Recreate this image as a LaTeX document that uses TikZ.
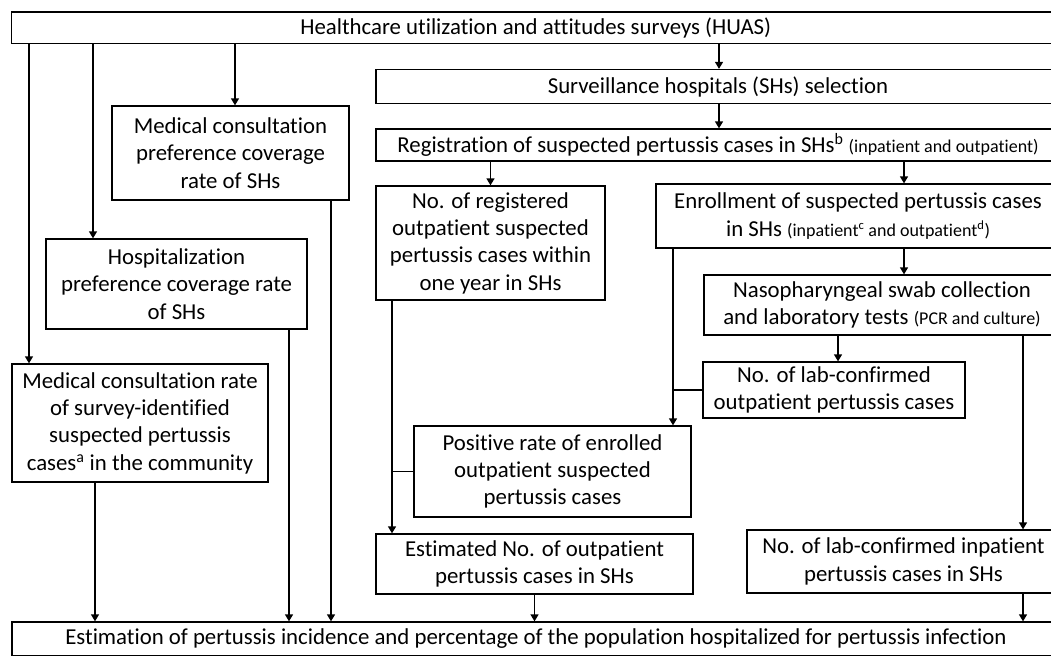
\documentclass[tikz,border=0pt]{standalone}
\usepackage{fontspec}
\setmainfont{Carlito}[Ligatures={NoCommon}]
\usetikzlibrary{arrows.meta}
\newcommand\fsz{\fontsize{22.8}{27.3}\selectfont}
\newcommand\sml{\fontsize{18}{20}\selectfont}
\tikzset{
  box/.style={draw, line width=1.3pt, rectangle, inner sep=0pt, align=center, font=\fsz},
  conn/.style={line width=1.3pt},
  arr/.style={conn, -{Triangle[width=8pt,length=7pt]}},
}
\begin{document}
\begin{tikzpicture}[x=1pt,y=-1pt]
\useasboundingbox (0,0) rectangle (1051,657);
% boxes
\node[box, minimum width=1048.5pt, minimum height=31.5pt] (huas) at (535.75,27.75) {Healthcare utilization and attitudes surveys (HUAS)};
\node[box, minimum width=684pt, minimum height=34pt] (surv) at (718,86.5) {Surveillance hospitals (SHs) selection};
\node[box, minimum width=684pt, minimum height=32pt] (reg) at (718,145) {Registration of suspected pertussis cases in SHs\textsuperscript{b} {\sml(inpatient and outpatient)}};
\node[box, minimum width=229pt, minimum height=114pt] (nreg) at (490.5,243) {No. of registered\\outpatient suspected\\pertussis cases within\\one year in SHs};
\node[box, minimum width=404pt, minimum height=64pt] (enr) at (858,216) {Enrollment of suspected pertussis cases\\in SHs {\sml(inpatient\textsuperscript{c} and outpatient\textsuperscript{d})}};
\node[box, minimum width=356pt, minimum height=60pt] (naso) at (882,305) {Nasopharyngeal swab collection\\and laboratory tests {\sml(PCR and culture)}};
\node[box, minimum width=262pt, minimum height=56pt] (labout) at (834,390) {No. of lab-confirmed\\outpatient pertussis cases};
\node[box, minimum width=277pt, minimum height=91pt] (pos) at (552.5,471.5) {Positive rate of enrolled\\outpatient suspected\\pertussis cases};
\node[box, minimum width=317pt, minimum height=60pt] (est) at (534.5,564) {Estimated No. of outpatient\\pertussis cases in SHs};
\node[box, minimum width=313pt, minimum height=63pt] (inp) at (903.5,561.5) {No. of lab-confirmed inpatient\\pertussis cases in SHs};
\node[box, minimum width=1048pt, minimum height=33.5pt] (fin) at (536,638.75) {Estimation of pertussis incidence and percentage of the population hospitalized for pertussis infection};
\node[box, minimum width=237pt, minimum height=94pt] (medpref) at (230.5,153) {Medical consultation\\preference coverage\\rate of SHs};
\node[box, minimum width=261pt, minimum height=90pt] (hosp) at (176.5,284) {Hospitalization\\preference coverage rate\\of SHs};
\node[box, minimum width=256pt, minimum height=118pt] (mcr) at (140,423) {Medical consultation rate\\of survey-identified\\suspected pertussis\\cases\textsuperscript{a} in the community};
% x positions of connectors
\coordinate (c29) at (29,0);
\coordinate (c93) at (93,0);
\coordinate (c235) at (235,0);
\coordinate (c95) at (95,0);
\coordinate (c289) at (289,0);
\coordinate (c331) at (331,0);
\coordinate (c719) at (719,0);
\coordinate (c904) at (904,0);
\coordinate (c392) at (392,0);
\coordinate (c673) at (673,0);
\coordinate (c838) at (838,0);
\coordinate (c1023) at (1023,0);
% connectors
\draw[arr] (huas.south -| c29) -- (mcr.north -| c29);
\draw[arr] (huas.south -| c93) -- (hosp.north -| c93);
\draw[arr] (huas.south -| c235) -- (medpref.north -| c235);
\draw[arr] (mcr.south -| c95) -- (fin.north -| c95);
\draw[arr] (hosp.south -| c289) -- (fin.north -| c289);
\draw[arr] (medpref.south -| c331) -- (fin.north -| c331);
\draw[arr] (huas.south -| c719) -- (surv.north -| c719);
\draw[arr] (surv.south -| c719) -- (reg.north -| c719);
\draw[arr] (reg.south -| nreg.north) -- (nreg.north);
\draw[arr] (reg.south -| c904) -- (enr.north -| c904);
\draw[arr] (enr.south -| c904) -- (naso.north -| c904);
\draw[arr] (naso.south -| c838) -- (labout.north -| c838);
\draw[arr] (enr.south -| c673) -- (pos.north -| c673);
\draw[conn] (labout.west) -- (labout.west -| c673);
\draw[arr] (nreg.south -| c392) -- (est.north -| c392);
\draw[conn] (pos.west) -- (pos.west -| c392);
\draw[arr] (naso.south -| c1023) -- (inp.north -| c1023);
\draw[arr] (est.south) -- (fin.north -| est.south);
\draw[arr] (inp.south -| c1023) -- (fin.north -| c1023);
\end{tikzpicture}
\end{document}
